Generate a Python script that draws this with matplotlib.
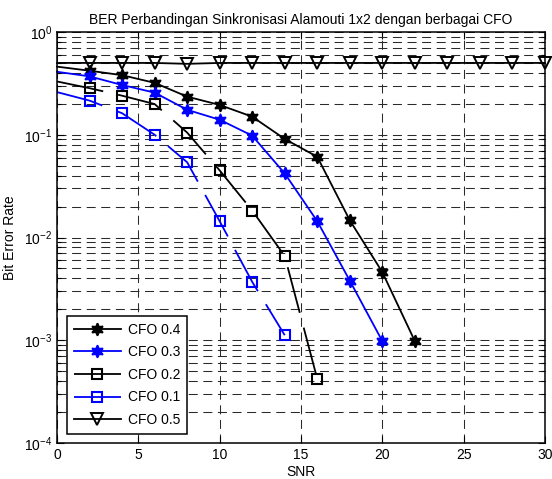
import numpy as np
import matplotlib
matplotlib.use("Agg")
import matplotlib.pyplot as plt

plt.rcParams['font.family'] = ['Liberation Sans', 'DejaVu Sans']
plt.rcParams['lines.scale_dashes'] = False
plt.rcParams['mathtext.fontset'] = 'custom'
plt.rcParams['mathtext.rm'] = 'Liberation Sans'

snr_a = [0, 2, 4, 6, 8, 10, 12, 14, 16, 18, 20, 22]
ber_cfo04 = [0.46, 0.42, 0.38, 0.32, 0.235, 0.195, 0.15, 0.091, 0.061, 0.0147, 0.0046, 0.00098]
snr_b = [0, 2, 4, 6, 8, 10, 12, 14, 16, 18, 20]
ber_cfo03 = [0.41, 0.37, 0.305, 0.257, 0.175, 0.14, 0.098, 0.042, 0.0144, 0.0038, 0.00098]
snr_c = [0, 2, 4, 6, 8, 10, 12, 14, 16]
ber_cfo02 = [0.33, 0.284, 0.24, 0.199, 0.105, 0.045, 0.0183, 0.0066, 0.00042]
snr_d = [0, 2, 4, 6, 8, 10, 12, 14]
ber_cfo01 = [0.26, 0.215, 0.162, 0.1, 0.054, 0.0144, 0.0037, 0.00112]
snr_e = [0, 2, 4, 6, 8, 10, 12, 14, 16, 18, 20, 22, 24, 26, 28, 30]
ber_cfo05 = [0.5, 0.5, 0.5, 0.5, 0.49, 0.5, 0.5, 0.5, 0.5, 0.5, 0.5, 0.5, 0.5, 0.5, 0.5, 0.5]

labels = ['CFO 0.4', 'CFO 0.3', 'CFO 0.2', 'CFO 0.1', 'CFO 0.5']
title = 'BER Perbandingan Sinkronisasi Alamouti 1x2 dengan berbagai CFO'

fig = plt.figure(figsize=(5.52, 4.79), dpi=100)
ax = fig.add_axes([57/552, 36/479, 488/552, 411/479])

star = (6, 1, 0)
dash = (0, (34, 11))
lw = 1.3
kw = dict(lw=lw, markevery=slice(1, None), clip_on=False)
ax.plot(snr_a, ber_cfo04, color='black', marker=star, ms=9, mfc='black', mec='black', mew=1.2, label=labels[0], **kw)
ax.plot(snr_b, ber_cfo03, color='blue', marker=star, ms=9, mfc='blue', mec='blue', mew=1.2, label=labels[1], **kw)
ax.plot(snr_c, ber_cfo02, color='black', ls=dash, marker='s', ms=7, mfc='none', mec='black', mew=1.5, label=labels[2], **kw)
ax.plot(snr_d, ber_cfo01, color='blue', ls=dash, marker='s', ms=7, mfc='none', mec='blue', mew=1.5, label=labels[3], **kw)
ax.plot(snr_e, ber_cfo05, color='black', marker='v', ms=8, mfc='none', mec='black', mew=1.4, label=labels[4], **kw)

ax.set_yscale('log')
ax.set_xlim(0, 30)
ax.set_ylim(1e-4, 1)
ax.set_xticks([0, 5, 10, 15, 20, 25, 30])

gkw = dict(color='#2a2a2a', ls=(0, (6.5, 4)), lw=0.75)
ax.grid(True, which='major', axis='both', **gkw)
ax.grid(True, which='minor', axis='y', **gkw)
ax.set_axisbelow(True)

ax.tick_params(which='both', direction='in', top=True, right=True, labelsize=10, width=0.8)
ax.tick_params(which='major', length=5)
ax.tick_params(which='minor', length=3)
for s in ax.spines.values():
    s.set_linewidth(1.1)

ax.set_title(title, fontsize=10, pad=6)
ax.set_xlabel('SNR', fontsize=10, labelpad=2)
ax.set_ylabel('Bit Error Rate', fontsize=10, labelpad=5)

leg = ax.legend(loc='lower left', bbox_to_anchor=(0.02, 0.022), borderaxespad=0,
                fontsize=10, handlelength=3.4, labelspacing=0.62, fancybox=False,
                framealpha=1, edgecolor='black', borderpad=0.5, handletextpad=0.5)
leg.get_frame().set_linewidth(1.1)

fig.savefig('out.png', dpi=100)
